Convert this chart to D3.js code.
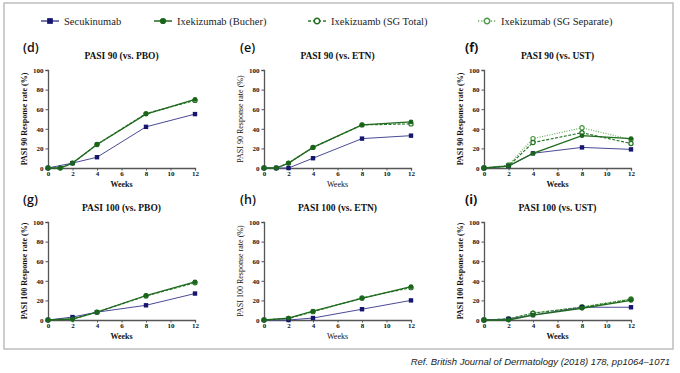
<!DOCTYPE html>
<html>
<head>
<meta charset="utf-8">
<title>PASI response</title>
<script src="https://d3js.org/d3.v7.min.js"></script>
<style>
  body { margin: 0; background: #fff; }
  svg text { font-family: "Liberation Serif", "DejaVu Serif", serif; }
</style>
</head>
<body>
<div id="chart"></div>
<script>

const width = 680;
const height = 373;

// series names (legend)
const seriesNames = ["Secukinumab", "Ixekizumab (Bucher)", "Ixekizuamb  (SG Total)", "Ixekizumab (SG Separate)"];

// tick labels
const weekTicks = [0, 2, 4, 6, 8, 10, 12];
const rateTicks = [0, 20, 40, 60, 80, 100];

// panel titles
const panelLetters = ["(d)", "(e)", "(f)", "(g)", "(h)", "(i)"];
const panelTitles = ["PASI 90 (vs. PBO)", "PASI 90 (vs. ETN)", "PASI 90 (vs. UST)",
                     "PASI 100 (vs. PBO)", "PASI 100 (vs. ETN)", "PASI 100 (vs. UST)"];
const panelYLabels = ["PASI 90 Response rate (%)", "PASI 90 Response rate (%)", "PASI 90 Response rate (%)",
                      "PASI 100 Response rate (%)", "PASI 100 Response rate (%)", "PASI 100 Response rate (%)"];

// [week, response %]
const d_secu    = [[0,0],[2,5],[4,11],[8,42],[12,55]];
const d_bucher  = [[0,0],[1,0],[2,5],[4,24],[8,55],[12,70]];
const d_sgTotal = [[0,0],[1,0],[2,5],[4,24],[8,55.5],[12,69]];

const e_secu    = [[0,0],[1,0],[2,0],[4,10],[8,30],[12,33]];
const e_bucher  = [[0,0],[1,0],[2,5],[4,21],[8,44],[12,47]];
const e_sgTotal = [[0,0],[1,0],[2,5],[4,21],[8,44],[12,45]];

const f_secu     = [[0,0],[2,2],[4,15],[8,21],[12,19]];
const f_bucher   = [[0,0],[2,2],[4,15],[8,33],[12,30]];
const f_sgTotal  = [[0,0],[2,2],[4,26],[8,36],[12,25]];
const f_sgSep    = [[0,0],[2,3],[4,30],[8,41],[12,29]];

const g_secu    = [[0,0],[2,3],[4,8],[8,15],[12,27]];
const g_bucher  = [[0,0],[2,1],[4,8],[8,25],[12,39]];
const g_sgTotal = [[0,0],[2,1],[4,8],[8,24.5],[12,38]];

const h_secu    = [[0,0],[2,0],[4,2],[8,11],[12,20]];
const h_bucher  = [[0,0],[2,2],[4,9],[8,22],[12,34]];
const h_sgTotal = [[0,0],[2,1.5],[4,8.5],[8,22.5],[12,33]];

const i_secu     = [[0,0],[2,1],[4,5],[8,13],[12,13]];
const i_bucher   = [[0,0],[2,0],[4,5],[8,12],[12,20]];
const i_sgTotal  = [[0,0],[2,1],[4,7],[8,13],[12,21]];
const i_sgSep    = [[0,0],[2,1],[4,7],[8,13.5],[12,21.5]];

const panelData = [
  [d_secu, d_bucher, d_sgTotal, null],
  [e_secu, e_bucher, e_sgTotal, null],
  [f_secu, f_bucher, f_sgTotal, f_sgSep],
  [g_secu, g_bucher, g_sgTotal, null],
  [h_secu, h_bucher, h_sgTotal, null],
  [i_secu, i_bucher, i_sgTotal, i_sgSep]
];

// look of each series
const styles = [
  {line: "#4a4a98", mark: "#16166e", dash: null,  width: 1,   shape: "square"},
  {line: "#1f6a1f", mark: "#1a651a", dash: null,  width: 1.3, shape: "dot"},
  {line: "#2b7a2b", mark: "#226f22", dash: "3,1.5", width: 1.2, shape: "ring"},
  {line: "#6aae5f", mark: "#4f9a48", dash: "1,1.5", width: 1.2, shape: "ring"}
];

const colX = [48, 264, 484];
const rowY = [70, 222];
const plotW = 147, plotH = 98;

var svg = d3.select("#chart").append("svg").attr("width", width).attr("height", height)

svg.append("rect").attr("width", width).attr("height", height).attr("fill", "#fff")

// frame
svg.append("rect")
  .attr("x", 4).attr("y", 3).attr("width", 669).attr("height", 346)
  .attr("fill", "none").attr("stroke", "#bdbdbd").attr("stroke-width", 1.5)

// legend
var legendX = [50, 163, 317, 487];
seriesNames.forEach(function(name, k) {
  var st = styles[k];
  var g = svg.append("g").attr("transform", "translate(" + legendX[k] + ",21)");
  g.append("line").attr("x1", -9).attr("x2", 9).attr("stroke", st.line)
    .attr("stroke-width", k < 2 ? 1.5 : 1.4).attr("stroke-dasharray", k == 2 ? "3,2" : (k == 3 ? "1.2,2" : null));
  drawMark(g, 0, 0, st, 1.3);
  g.append("text").attr("x", 14).attr("y", 3.5)
    .style("font-family", "'Liberation Serif', serif")
    .attr("font-size", 10.5).attr("fill", "#222").text(name);
});

panelData.forEach(function(series, p) {
  var col = p % 3, row = Math.floor(p / 3);
  var x0 = colX[col], y0 = rowY[row];
  var x = d3.scaleLinear().domain([0, 12]).range([x0, x0 + plotW]);
  var y = d3.scaleLinear().domain([0, 100]).range([y0 + plotH, y0]);
  var bold = col == 1 ? "normal" : "bold";

  var g = svg.append("g");

  // panel letter and title
  g.append("text").attr("x", [23, 240, 465][col]).attr("y", y0 - 18)
    .style("font-family", "'Open Sans', 'Liberation Sans', sans-serif")
    .attr("font-size", 12.5).attr("font-weight", col == 2 ? "bold" : "600").attr("fill", "#111")
    .text(panelLetters[p]);
  g.append("text").attr("x", x0 + plotW / 2).attr("y", y0 - 11).attr("text-anchor", "middle")
    .attr("font-size", 9.5).attr("font-weight", "bold").attr("fill", "#111").text(panelTitles[p]);

  // axes
  var yAxis = d3.axisLeft(y).tickValues(rateTicks).tickSize(2.5).tickPadding(2);
  var xAxis = d3.axisBottom(x).tickValues(weekTicks).tickSize(2.5).tickPadding(1);

  var ya = g.append("g").attr("transform", "translate(" + x0 + ",0)").call(yAxis);
  var xa = g.append("g").attr("transform", "translate(0," + (y0 + plotH) + ")").call(xAxis);
  [ya, xa].forEach(function(a) {
    a.select(".domain").attr("stroke", "#555").attr("stroke-width", 1.3);
    a.selectAll(".tick line").attr("stroke", "#555").attr("stroke-width", 1);
    a.selectAll(".tick text").attr("font-family", "'Liberation Serif', serif")
      .attr("font-size", 7).attr("font-weight", "bold").attr("fill", "#111");
  });

  // axis labels
  g.append("text").attr("transform", "translate(" + (x0 - 21) + "," + (y0 + plotH / 2) + ") rotate(-90)")
    .attr("text-anchor", "middle").attr("font-size", 8).attr("font-weight", bold).attr("fill", "#111")
    .text(panelYLabels[p]);
  g.append("text").attr("x", x0 + plotW / 2).attr("y", y0 + plotH + 19).attr("text-anchor", "middle")
    .attr("font-size", 8).attr("font-weight", bold).attr("fill", "#111").text("Weeks");

  var line = d3.line().x(function(d) { return x(d[0]); }).y(function(d) { return y(d[1]); });

  // draw back to front: separate, total, secukinumab, bucher
  [3, 2, 0, 1].forEach(function(k) {
    var data = series[k];
    if (!data) return;
    var st = styles[k];
    g.append("path").datum(data).attr("d", line).attr("fill", "none")
      .attr("stroke", st.line).attr("stroke-width", st.width).attr("stroke-dasharray", st.dash);
    data.forEach(function(d) { drawMark(g, x(d[0]), y(d[1]), st, 1); });
  });
});

// source reference
svg.append("text").attr("x", 670).attr("y", 365).attr("text-anchor", "end")
  .style("font-family", "'Liberation Sans', sans-serif")
  .attr("font-size", 9.5).attr("font-style", "italic").attr("fill", "#222")
  .text("Ref. British Journal of Dermatology (2018) 178, pp1064\u20131071");

function drawMark(g, cx, cy, st, s) {
  if (st.shape == "square") {
    var r = 2.2 * s;
    g.append("rect").attr("x", cx - r).attr("y", cy - r).attr("width", 2 * r).attr("height", 2 * r).attr("fill", st.mark);
  } else if (st.shape == "dot") {
    g.append("circle").attr("cx", cx).attr("cy", cy).attr("r", 2.4 * s).attr("fill", st.mark);
  } else {
    g.append("circle").attr("cx", cx).attr("cy", cy).attr("r", 2.1 * s)
      .attr("fill", "#fff").attr("stroke", st.mark).attr("stroke-width", 1.2 * s);
  }
}

</script>
</body>
</html>
